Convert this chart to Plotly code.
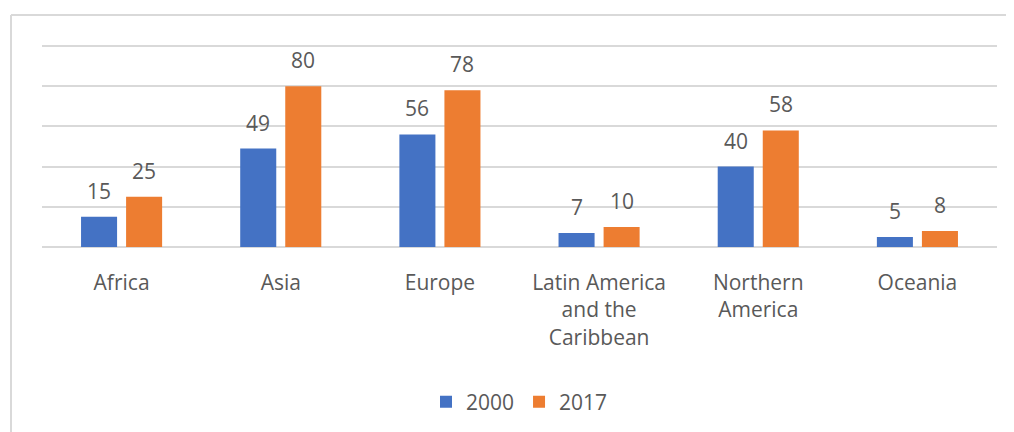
import plotly.graph_objects as go

# Data
regions = ['Africa', 'Asia', 'Europe', 'Latin America<br>and the<br>Caribbean',
           'Northern<br>America', 'Oceania']
values_2000 = [15, 49, 56, 7, 40, 5]
values_2017 = [25, 80, 78, 10, 58, 8]
series_names = ['2000', '2017']

BLUE = '#4472C4'
ORANGE = '#ED7D31'
TEXT = '#595959'
GRID = '#D9D9D9'
FONT = 'Open Sans'

# the page body adds an 8px margin, so the figure margins are reduced by 8
PLOT_H = 203  # plot area height in px (range 0..101)

fig = go.Figure()
fig.add_trace(go.Bar(x=regions, y=values_2000, name=series_names[0],
                     marker=dict(color=BLUE, line=dict(width=0))))
fig.add_trace(go.Bar(x=regions, y=values_2017, name=series_names[1],
                     marker=dict(color=ORANGE, line=dict(width=0))))

# data labels sitting well above each bar, as in the source chart
for vals, shift in ((values_2000, -22.5), (values_2017, 22.5)):
    for reg, v in zip(regions, vals):
        fig.add_annotation(x=reg, y=v, text=str(v), showarrow=False,
                           xshift=shift, yshift=26, yanchor='middle',
                           font=dict(family=FONT, size=21, color=TEXT))

# chart frame (only left and top edges are visible)
frame_x = -31 / 955
frame_y = (247 - 15) / PLOT_H
fig.add_shape(type='line', xref='paper', yref='paper',
              x0=frame_x, x1=1.2, y0=frame_y, y1=frame_y,
              line=dict(color=GRID, width=2))
fig.add_shape(type='line', xref='paper', yref='paper',
              x0=frame_x, x1=frame_x, y0=frame_y, y1=-1.3,
              line=dict(color=GRID, width=2))

fig.update_layout(
    width=1014, height=432,
    margin=dict(l=34, r=25, t=36, b=193, autoexpand=False),
    paper_bgcolor='white', plot_bgcolor='white',
    barmode='group', bargap=0.434, bargroupgap=0.2,
    font=dict(family=FONT, size=21, color=TEXT),
    showlegend=True,
    legend=dict(orientation='h', x=0.5, xanchor='center',
                y=-(402 - 247) / PLOT_H, yanchor='middle',
                font=dict(family=FONT, size=21, color=TEXT),
                itemwidth=30, tracegroupgap=0),
)
fig.update_xaxes(showline=False, ticks='', ticklabelstandoff=21,
                 automargin=False,
                 tickfont=dict(family=FONT, size=21, color=TEXT))
fig.update_yaxes(range=[0, 101], dtick=20, showticklabels=False,
                 showgrid=True, gridcolor=GRID, gridwidth=1.5,
                 zeroline=True, zerolinecolor=GRID, zerolinewidth=1.5,
                 showline=False, automargin=False)

fig.write_html('out.html')
